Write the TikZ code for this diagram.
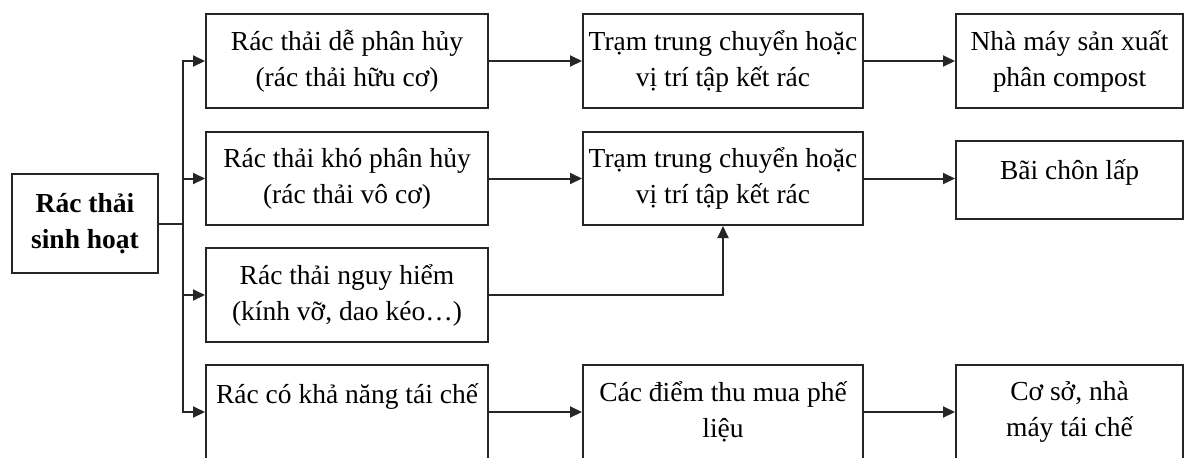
\documentclass[tikz,border=0pt]{standalone}
\usepackage{fontspec}
\setmainfont{Liberation Serif}
\usetikzlibrary{arrows.meta}
\definecolor{ink}{HTML}{262626}
\tikzset{
  box/.style={draw=ink, line width=1pt, inner sep=0pt, align=center, text=black,
    font=\fontsize{13.75pt}{18pt}\selectfont},
  conn/.style={draw=ink, line width=1pt, -{Triangle[length=6pt,width=5.5pt]}},
  plain/.style={draw=ink, line width=1pt}
}
\begin{document}
\begin{tikzpicture}[x=0.5pt,y=-0.5pt]
\clip (0,0) rectangle (1184,457);
\fill[white] (0,0) rectangle (1184,457);
% main node
\node[box, minimum width=73pt, minimum height=49.5pt, font=\fontsize{13.75pt}{18pt}\selectfont\bfseries] (M) at (85,223.5) {Rác thải\\sinh hoạt};
% first column
\node[box, minimum width=141pt, minimum height=47pt] (A1) at (347,61) {Rác thải dễ phân hủy\\(rác thải hữu cơ)};
\node[box, minimum width=141pt, minimum height=46.5pt] (A2) at (347,178.5) {Rác thải khó phân hủy\\(rác thải vô cơ)};
\node[box, minimum width=141pt, minimum height=47pt] (A3) at (347,295) {Rác thải nguy hiểm\\(kính vỡ, dao kéo…)};
\node[box, minimum width=141pt, minimum height=47pt] (A4) at (347,412) {Rác có khả năng tái chế\\\mbox{}};
% second column
\node[box, minimum width=140pt, minimum height=47pt] (B1) at (723,61) {Trạm trung chuyển hoặc\\vị trí tập kết rác};
\node[box, minimum width=140pt, minimum height=46.5pt] (B2) at (723,178.5) {Trạm trung chuyển hoặc\\vị trí tập kết rác};
\node[box, minimum width=140pt, minimum height=47pt] (B4) at (723,412) {Các điểm thu mua phế\\liệu};
% third column
\node[box, minimum width=113.5pt, minimum height=47pt] (C1) at (1069.5,61) {Nhà máy sản xuất\\phân compost};
\node[box, minimum width=113.5pt, minimum height=39pt, text depth=10pt] (C2) at (1069.5,180) {Bãi chôn lấp};
\node[box, minimum width=113.5pt, minimum height=47pt] (C4) at (1069.5,412) {Cơ sở, nhà\\máy tái chế};
% bus
\coordinate (J) at (183,223.5);
\draw[plain] (M.east) -- (J);
\draw[conn] (J) |- (A1.west);
\draw[conn] (J) |- (A2.west);
\draw[conn] (J) |- (A3.west);
\draw[conn] (J) |- (A4.west);
% flows
\draw[conn] (A1.east) -- (B1.west);
\draw[conn] (B1.east) -- (C1.west);
\draw[conn] (A2.east) -- (B2.west);
\draw[conn] (B2.east) -- (B2.east -| C2.west);
\draw[conn] (A3.east) -| (B2.south);
\draw[conn] (A4.east) -- (B4.west);
\draw[conn] (B4.east) -- (C4.west);
\end{tikzpicture}
\end{document}
